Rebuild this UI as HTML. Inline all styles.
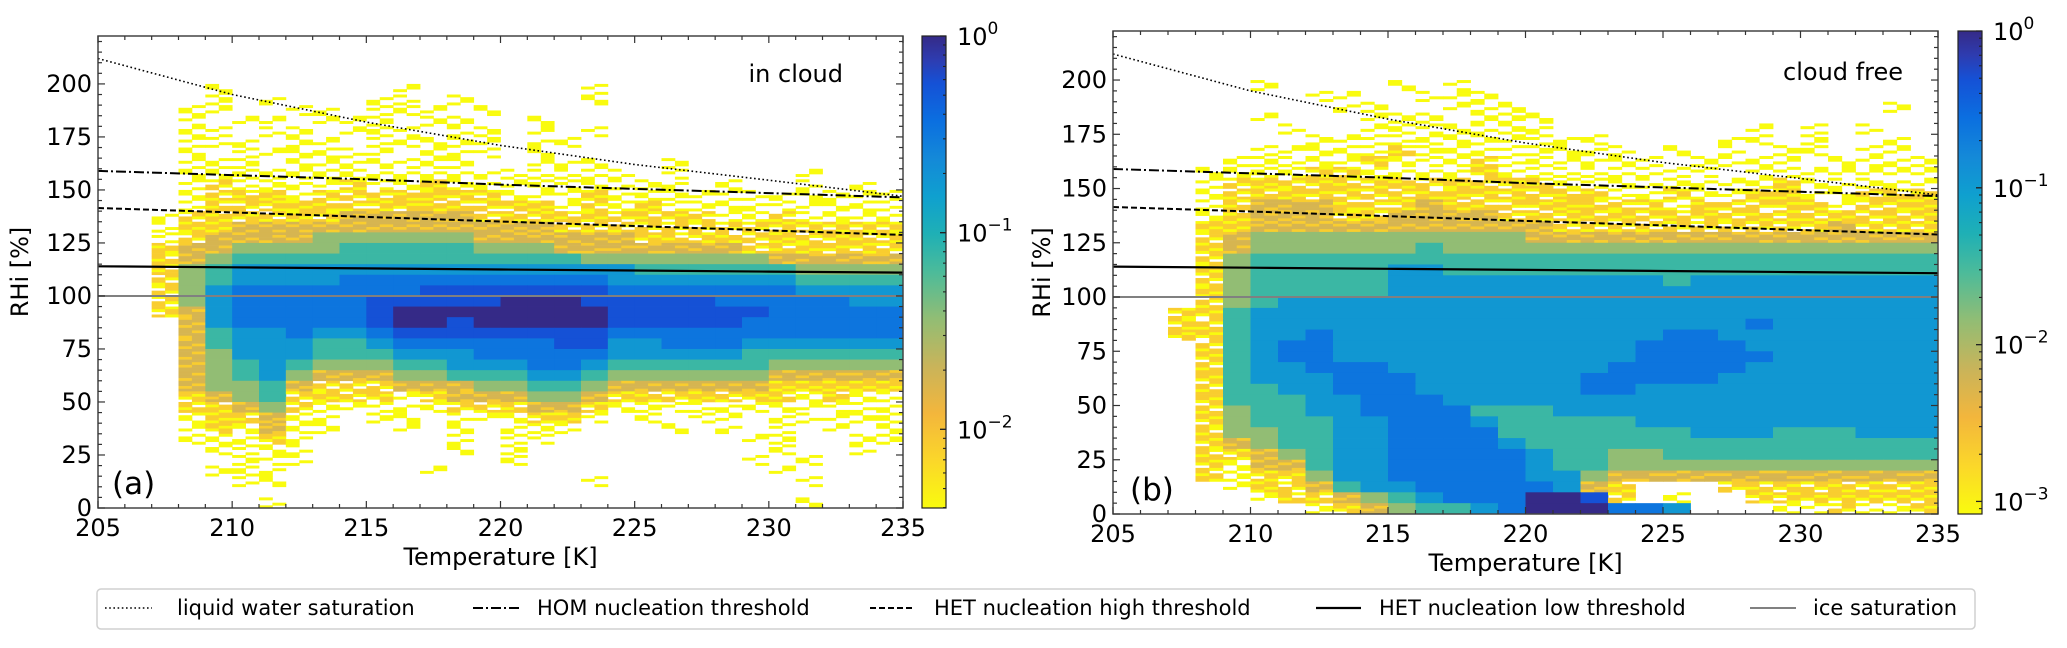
<!DOCTYPE html>
<html><head><meta charset="utf-8">
<style>
html,body{margin:0;padding:0;background:#fff;}
svg{display:block;font-family:"DejaVu Sans","Liberation Sans",sans-serif;}
</style></head>
<body>
<svg id="fig" width="2067" height="648" viewBox="0 0 2067 648" xmlns="http://www.w3.org/2000/svg">
<defs>
<linearGradient id="cmap" x1="0" y1="1" x2="0" y2="0">
<stop offset="0" stop-color="#f9fb0e"/><stop offset="0.1" stop-color="#fbd72a"/><stop offset="0.2" stop-color="#f3b63c"/>
<stop offset="0.3" stop-color="#c9b45a"/><stop offset="0.4" stop-color="#92bd74"/><stop offset="0.5" stop-color="#4cbb9a"/>
<stop offset="0.58" stop-color="#1fb0b5"/><stop offset="0.66" stop-color="#0fa0cf"/><stop offset="0.74" stop-color="#1489d8"/>
<stop offset="0.82" stop-color="#0b6fe0"/><stop offset="0.9" stop-color="#1551d6"/><stop offset="0.95" stop-color="#2e3cb0"/>
<stop offset="1" stop-color="#352a87"/>
</linearGradient>
</defs>
<g id="panelA"></g>
<g id="panelB"></g>
<g id="legend">
<rect x="97" y="589" width="1878" height="40" rx="4" fill="#fff" stroke="#d0d0d0" stroke-width="1.5"/>
<line x1="105" y1="608" x2="152" y2="608" stroke="#000" stroke-width="1.6" stroke-dasharray="1.6,2.6"/>
<text x="177" y="615" font-size="21">liquid water saturation</text>
<line x1="473" y1="608" x2="519" y2="608" stroke="#000" stroke-width="2" stroke-dasharray="10,3,2,3"/>
<text x="537" y="615" font-size="21">HOM nucleation threshold</text>
<line x1="870" y1="608" x2="915" y2="608" stroke="#000" stroke-width="2" stroke-dasharray="6,3"/>
<text x="934" y="615" font-size="21">HET nucleation high threshold</text>
<line x1="1316" y1="608" x2="1361" y2="608" stroke="#000" stroke-width="2.2"/>
<text x="1379" y="615" font-size="21">HET nucleation low threshold</text>
<line x1="1750" y1="608" x2="1796" y2="608" stroke="#808080" stroke-width="2"/>
<text x="1813" y="615" font-size="21">ice saturation</text>
</g>
</svg>
<script>
// ---------- data ----------
const lineT = [205, 210, 215, 220, 225, 230, 235];
const liquidSat = [212, 195, 182, 171, 162, 154.6, 147];
const homThreshold = [159, 157, 155, 152.5, 150.5, 148.5, 146.5];
const hetHigh = [141.5, 139.4, 137.3, 135.1, 133, 130.9, 128.8];
const hetLow = [114, 113.5, 113, 112.5, 112, 111.5, 111];
const iceSat = [100, 100, 100, 100, 100, 100, 100];
const xTicks = [205, 210, 215, 220, 225, 230, 235];
const yTicks = [0, 25, 50, 75, 100, 125, 150, 175, 200];
const tempBins = [205,206,207,208,209,210,211,212,213,214,215,216,217,218,219,220,221,222,223,224,225,226,227,228,229,230,231,232,233,234,235];
const rhiBinWidth = 5;
// density level per cell (0 = empty, 1 = lowest .. 9 = highest); rows from RHi 215-220 down to 0-5
const gridA = [
"000000000000000000000000000000","000000000000000000000000000000","000000000000000000000000000000","000000000000000000000000000000",
"000010000001000000100000000000","000010100011010000100000000000","000110011011101000000000000000","000101101110110010000000000000",
"000110110111011010100000000000","000111011011111011000000000000","000101111110111010000000000000","000111011111110011100100000000",
"000111111111111111110100001000","000121111211211111111101001010","000122212222222111211111111111","000122222222222221212111111111",
"001222222333332222222221121111","001223333333333332222222222222","001233334444443333332222222222","002334444555554443333333222222",
"002345555555555555444444433333","002456666666666666665555554444","002456666777777777766666665555","002467777777888888877777776666",
"002467777788888999888887777766","002367777789999999988888877777","000367777789989999988888777777","000356676678888888877777777777",
"000356665567777778866777666666","000346665556667777766666555555","000345654445566677655555544444","000345643334455566544444433333",
"000344532223334455433333322222","000234522221233344322222221211","000223421111122233211111111111","000122311011011122101011011111",
"000121311001010111000101010101","000111210000010110000000110011","000011110000010100000000010010","000001110000000100000000101000",
"000011100000100000000000010000","000001100000000000100000001000","000000000000000000000000000000","000000100000000000000000001000"];
const gridB = [
"000000000000000000000000000000","000000000000000000000000000000","000000000000000000000000000000","000000000000000000000000000000",
"000001000010100000000000000000","000000011001110000000000000000","000000001100111000000000000010","000001000111011100000000000000",
"000000100111111100000001010100","000000011111111111000011010010","000001111121111111101010110110","000011111211121111110111101111",
"000111122111121111111101111111","000122222222222211111111211111","000122222222222222112112211222","000123332223222222221222221222",
"000123332233332222222222222222","000223333333333322222222223222","000234444444444333333333333333","000234444445444444444444444444",
"000245555555555555555555555555","000245555566555555555555555555","000245555566666666665666666666","000245555566666666666666666666",
"000245666666666666666666666666","002256666666666666666666666666","002256666666666666666667666666","002256676666666666667766666666",
"000256776666666666677776666666","000256776666666666677777666666","000256677766666666777776666666","000256667776666667777766666666",
"000255667776666667766666666666","000255566777666666666666666666","000245566777755566666666666666","000245556677765555566666666666",
"000244556677775555555666555666","000234556677776555555555555555","000223456677777655445555555555","000213356677777655444444444444",
"000212246677777664333333333333","000012235667777763200022222222","000001223456777998201002222222","000000012345567999776000112112"];
const cbTicksA = [0, -1, -2];
const cbTicksB = [0, -1, -2, -3];

// ---------- colormap ----------
const stops = [[0,"#f9fb0e"],[0.1,"#fbd72a"],[0.2,"#f3b63c"],[0.3,"#c9b45a"],[0.4,"#92bd74"],[0.5,"#4cbb9a"],[0.58,"#1fb0b5"],[0.66,"#0fa0cf"],[0.74,"#1489d8"],[0.82,"#0b6fe0"],[0.9,"#1551d6"],[0.95,"#2e3cb0"],[1,"#352a87"]];
const levelPos = [0, 0, 0.13, 0.27, 0.4, 0.53, 0.69, 0.8, 0.9, 1];
function hex(c){return [parseInt(c.substr(1,2),16),parseInt(c.substr(3,2),16),parseInt(c.substr(5,2),16)];}
function cmap(t){
  t=Math.max(0,Math.min(1,t));
  for(let i=1;i<stops.length;i++){
    if(t<=stops[i][0]){
      const a=hex(stops[i-1][1]),b=hex(stops[i][1]);
      const f=(t-stops[i-1][0])/(stops[i][0]-stops[i-1][0]);
      return "rgb("+a.map((v,k)=>Math.round(v+(b[k]-v)*f)).join(",")+")";
    }
  }
  return stops[stops.length-1][1];
}
const NS="http://www.w3.org/2000/svg";
function el(tag,attrs,parent){const e=document.createElementNS(NS,tag);for(const k in attrs)e.setAttribute(k,attrs[k]);parent.appendChild(e);return e;}

function drawPanel(g, cfg){
  const X0=cfg.x0,X1=cfg.x1,Y0=cfg.y0,Y1=cfg.y1,YMAX=222.6;
  const sx=T=>X0+(T-205)/30*(X1-X0);
  const sy=R=>Y1-R/YMAX*(Y1-Y0);
  const hm=el("g",{},g);
  
  
  const nRows=cfg.grid.length;
  const SUB=4;
  cfg.grid.forEach((row,ri)=>{
    const k=nRows-1-ri;
    for(let c=0;c<tempBins.length-1;c++){
      const L=parseInt(row.charAt(c)||"0",10);
      if(!L) continue;
      const ya=sy(k*rhiBinWidth+rhiBinWidth),yb=sy(k*rhiBinWidth);
      if(L>=4){
        const r=el("rect",{x:sx(tempBins[c]).toFixed(2),y:ya.toFixed(2),width:(sx(tempBins[c+1])-sx(tempBins[c])+0.4).toFixed(2),height:(yb-ya+0.4).toFixed(2),fill:cmap(levelPos[L])},hm);
        
        
        continue;
      }
      const h=(yb-ya)/SUB;
      for(let half=0;half<2;half++){
        const xa=sx(tempBins[c]+half*0.5),xb=sx(tempBins[c]+half*0.5+0.5);
        for(let s=0;s<SUB;s++){
          const hsh=(c*13+k*17+s*5+half*11+(c*k)%5)%7;
          let lv=L;
          if(L===1){ if(hsh>2) continue; }
          else if(L===2){ if(hsh===0) continue; if(hsh<3) lv=1; }
          else if(L===3){ if(hsh<2) lv=2; }
          const r=el("rect",{x:xa.toFixed(2),y:(ya+s*h).toFixed(2),width:(xb-xa+0.4).toFixed(2),height:(h+0.3).toFixed(2),fill:cmap(levelPos[lv])},hm);
          
          
        }
      }
    }
  });
  const pts=arr=>lineT.map((T,i)=>sx(T).toFixed(1)+","+sy(arr[i]).toFixed(1)).join(" ");
  const defs=[[iceSat,"ice-saturation-line","#808080",2,""],[hetLow,"het-low-line","#000",2.2,""],[hetHigh,"het-high-line","#000",2,"6,3"],[homThreshold,"hom-line","#000",2,"10,3,2,3"],[liquidSat,"liquid-saturation-line","#000",1.6,"1.6,2.6"]];
  defs.forEach(d=>{
    const p=el("polyline",{points:pts(d[0]),fill:"none",stroke:d[2],"stroke-width":d[3]},g);
    if(d[4]) p.setAttribute("stroke-dasharray",d[4]);
    
    
  });
  const fr=el("rect",{x:X0,y:Y0,width:X1-X0,height:Y1-Y0,fill:"none",stroke:"#444","stroke-width":1.5},g);
  
  
  const tk=el("g",{stroke:"#333","stroke-width":1.2},g);
  
  
  for(let T=205;T<=235;T++){
    const len=(T%5===0)?7:4,x=sx(T);
    el("line",{x1:x,y1:Y1,x2:x,y2:Y1-len},tk);el("line",{x1:x,y1:Y0,x2:x,y2:Y0+len},tk);
  }
  for(let R=0;R<=220;R+=5){
    const len=(R%25===0)?7:4,y=sy(R);
    el("line",{x1:X0,y1:y,x2:X0+len,y2:y},tk);el("line",{x1:X1,y1:y,x2:X1-len,y2:y},tk);
  }
  xTicks.forEach(T=>{
    const t=el("text",{x:sx(T),y:Y1+28,"font-size":24,"text-anchor":"middle"},g);t.textContent=T;
    
    
  });
  yTicks.forEach(R=>{
    const t=el("text",{x:X0-6,y:sy(R)+8,"font-size":24,"text-anchor":"end"},g);t.textContent=R;
    
    
  });
  const xt=el("text",{x:(X0+X1)/2,y:Y1+57,"font-size":24,"text-anchor":"middle"},g);xt.textContent="Temperature [K]";
  
  
  const yt=el("text",{x:0,y:0,"font-size":24,"text-anchor":"middle",transform:"translate("+cfg.ytx+","+((Y0+Y1)/2)+") rotate(-90)"},g);yt.textContent="RHi [%]";
  
  
  const lab=el("text",{x:cfg.tagX,y:Y1-14,"font-size":31},g);lab.textContent=cfg.tag;
  
  
  const ann=el("text",{x:cfg.annX,y:cfg.annY,"font-size":24,"text-anchor":"end"},g);ann.textContent=cfg.ann;
  
  
  const cb=el("g",{},g);
  
  
  el("rect",{x:cfg.cbx,y:Y0,width:24,height:Y1-Y0,fill:"url(#cmap)",stroke:"#222","stroke-width":1.2},cb);
  const cy=v=>Y1-(v-cfg.cbMin)/(0-cfg.cbMin)*(Y1-Y0);
  for(let d=0;d>cfg.cbMin-1;d--){
    for(let m=1;m<10;m++){
      const v=d-1+Math.log10(m);
      if(v<cfg.cbMin||v>0) continue;
      const y=cy(v),len=(m===1)?6:3;
      el("line",{x1:cfg.cbx+24,y1:y,x2:cfg.cbx+24-len,y2:y,stroke:"#222","stroke-width":1.1},cb);
    }
  }
  cfg.cbTicks.forEach(v=>{
    const y=cy(v);
    el("line",{x1:cfg.cbx+24,y1:y,x2:cfg.cbx+18,y2:y,stroke:"#222","stroke-width":1.2},cb);
    const t=el("text",{x:cfg.cbx+35,y:y+9,"font-size":24},cb);
    
    
    t.textContent="10";
    const s=el("tspan",{dy:-11,"font-size":17},t);s.textContent=(v===0?"0":"\u2212"+(-v));
  });
}
drawPanel(document.getElementById("panelA"),{x0:98,x1:903,y0:36,y1:508,grid:gridA,cbx:922,cbMin:-2.4,cbTicks:cbTicksA,ytx:28,tag:"(a)",tagX:112,ann:"in cloud",annX:843,annY:82});
drawPanel(document.getElementById("panelB"),{x0:1113,x1:1938,y0:31,y1:514,grid:gridB,cbx:1958,cbMin:-3.08,cbTicks:cbTicksB,ytx:1050,tag:"(b)",tagX:1130,ann:"cloud free",annX:1903,annY:80});
</script>
</body></html>
